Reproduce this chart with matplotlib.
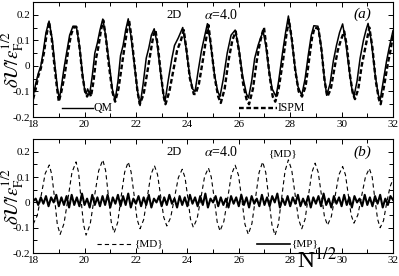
import numpy as np
import matplotlib
matplotlib.use('Agg')
import matplotlib.pyplot as plt
from matplotlib.ticker import MultipleLocator, FuncFormatter

plt.rcParams['font.family'] = 'serif'
plt.rcParams['font.serif'] = ['Liberation Serif', 'DejaVu Serif']
plt.rcParams['mathtext.fontset'] = 'stix'

# panel (a): QM (solid) and ISPM (dashed)
qm_x = [18.0, 18.1, 18.2, 18.3, 18.4, 18.5, 18.62, 18.75, 18.85, 18.95, 19.02, 19.1, 19.2, 19.3,
        19.42, 19.55, 19.68, 19.8, 19.92, 20.0, 20.06, 20.12, 20.2, 20.3, 20.4, 20.5, 20.6, 20.71,
        20.82, 20.95, 21.08, 21.19, 21.3, 21.4, 21.5, 21.6, 21.7, 21.8, 21.92, 22.05, 22.16, 22.28,
        22.4, 22.5, 22.6, 22.71, 22.82, 22.95, 23.05, 23.13, 23.25, 23.4, 23.5, 23.65, 23.82, 23.95,
        24.08, 24.2, 24.3, 24.42, 24.55, 24.68, 24.78, 24.9, 25.05, 25.18, 25.27, 25.4, 25.55, 25.7,
        25.86, 26.0, 26.15, 26.3, 26.38, 26.5, 26.62, 26.75, 26.85, 26.95, 27.05, 27.18, 27.3, 27.45,
        27.55, 27.7, 27.82, 27.93, 28.05, 28.18, 28.3, 28.45, 28.58, 28.7, 28.82, 28.92, 29.08, 29.2,
        29.32, 29.42, 29.55, 29.68, 29.8, 29.92, 30.04, 30.15, 30.3, 30.4, 30.48, 30.6, 30.72, 30.85,
        30.95, 31.03, 31.15, 31.3, 31.42, 31.5, 31.62, 31.75, 31.85, 32.0]
qm_y = [-0.12, -0.07, -0.03, 0.0, 0.06, 0.13, 0.175, 0.10, 0.0, -0.09, -0.13, -0.08, -0.01, 0.05,
        0.12, 0.155, 0.155, 0.08, -0.03, -0.09, -0.11, -0.09, -0.11, -0.04, 0.05, 0.09, 0.14, 0.183,
        0.12, 0.02, -0.09, -0.135, -0.06, 0.04, 0.08, 0.14, 0.184, 0.12, 0.02, -0.09, -0.155, -0.07,
        0.03, 0.07, 0.12, 0.145, 0.09, -0.02, -0.1, -0.14, -0.06, 0.03, 0.08, 0.11, 0.15, 0.07,
        -0.03, -0.09, -0.1, -0.02, 0.06, 0.12, 0.165, 0.09, -0.03, -0.1, -0.12, -0.05, 0.05, 0.12,
        0.14, 0.07, -0.04, -0.11, -0.125, -0.06, 0.03, 0.08, 0.11, 0.135, 0.08, -0.02, -0.09, -0.12,
        -0.06, 0.05, 0.13, 0.195, 0.11, 0.0, -0.08, -0.115, -0.05, 0.04, 0.12, 0.157, 0.155, 0.08,
        -0.04, -0.115, -0.07, 0.02, 0.08, 0.13, 0.164, 0.1, -0.02, -0.09, -0.12, -0.06, 0.03, 0.1,
        0.14, 0.166, 0.1, -0.03, -0.11, -0.134, -0.06, 0.02, 0.07, 0.138]

ispm_x = [18.0, 18.1, 18.2, 18.3, 18.42, 18.52, 18.62, 18.72, 18.82, 18.92, 19.0, 19.1, 19.22, 19.35,
          19.47, 19.58, 19.7, 19.82, 19.92, 20.02, 20.1, 20.18, 20.25, 20.35, 20.45, 20.55, 20.64,
          20.73, 20.83, 20.95, 21.08, 21.19, 21.32, 21.45, 21.55, 21.64, 21.73, 21.83, 21.95, 22.06,
          22.15, 22.3, 22.45, 22.58, 22.68, 22.76, 22.86, 22.98, 23.08, 23.15, 23.3, 23.45, 23.6,
          23.75, 23.86, 23.97, 24.1, 24.25, 24.32, 24.45, 24.6, 24.72, 24.82, 24.93, 25.07, 25.2,
          25.3, 25.45, 25.6, 25.75, 25.88, 26.02, 26.17, 26.3, 26.4, 26.55, 26.7, 26.82, 26.92, 26.98,
          27.08, 27.2, 27.32, 27.42, 27.55, 27.72, 27.85, 27.95, 28.07, 28.2, 28.33, 28.46, 28.6,
          28.73, 28.85, 28.95, 29.1, 29.22, 29.34, 29.45, 29.58, 29.72, 29.85, 29.97, 30.1, 30.2,
          30.33, 30.44, 30.52, 30.65, 30.78, 30.92, 31.02, 31.08, 31.2, 31.33, 31.45, 31.52, 31.65,
          31.8, 31.9, 32.0]
ispm_y = [-0.13, -0.09, -0.04, -0.01, 0.05, 0.12, 0.172, 0.11, 0.01, -0.08, -0.14, -0.10, -0.04, 0.05,
          0.12, 0.152, 0.15, 0.06, -0.04, -0.10, -0.12, -0.10, -0.12, -0.06, 0.03, 0.08, 0.14,
          0.178, 0.11, 0.0, -0.10, -0.14, -0.09, 0.0, 0.07, 0.13, 0.18, 0.11, 0.0, -0.10,
          -0.15, -0.11, -0.02, 0.06, 0.12, 0.14, 0.07, -0.04, -0.12, -0.15, -0.10, -0.02, 0.06,
          0.1, 0.14, 0.06, -0.05, -0.11, -0.11, -0.07, 0.02, 0.1, 0.16, 0.07, -0.05, -0.12,
          -0.145, -0.09, 0.02, 0.1, 0.135, 0.05, -0.07, -0.13, -0.15, -0.09, 0.02, 0.09, 0.13, 0.15,
          0.07, -0.04, -0.12, -0.14, -0.09, 0.02, 0.12, 0.18, 0.1, -0.02, -0.1, -0.12, -0.08,
          0.02, 0.11, 0.15, 0.145, 0.06, -0.06, -0.12, -0.09, -0.01, 0.06, 0.1, 0.135, 0.08,
          -0.04, -0.11, -0.13, -0.09, 0.0, 0.07, 0.12, 0.15, 0.07, -0.06, -0.13, -0.15, -0.08,
          0.01, 0.06, 0.12]

# panel (b): {MD} (dashed) and {MP} (solid)
md_x = [18.0, 18.16, 18.32, 18.47, 18.63, 18.73, 18.84, 18.94, 19.05, 19.20, 19.36, 19.51, 19.67,
        19.77, 19.86, 19.96, 20.06, 20.22, 20.38, 20.55, 20.71, 20.82, 20.93, 21.04, 21.15, 21.29,
        21.42, 21.56, 21.70, 21.81, 21.93, 22.04, 22.16, 22.30, 22.44, 22.58, 22.72, 22.84, 22.96,
        23.08, 23.20, 23.35, 23.50, 23.65, 23.80, 23.91, 24.02, 24.12, 24.23, 24.38, 24.53, 24.67,
        24.82, 24.93, 25.05, 25.16, 25.27, 25.42, 25.57, 25.71, 25.86, 25.99, 26.12, 26.24, 26.37,
        26.51, 26.65, 26.79, 26.93, 27.05, 27.17, 27.29, 27.41, 27.54, 27.67, 27.80, 27.93, 28.06,
        28.19, 28.32, 28.45, 28.58, 28.71, 28.84, 28.97, 29.09, 29.21, 29.33, 29.45, 29.60, 29.75,
        29.89, 30.04, 30.15, 30.26, 30.37, 30.48, 30.63, 30.78, 30.93, 31.08, 31.19, 31.29, 31.40,
        31.50, 31.63, 31.75, 31.88, 32.0]
md_y = [-0.086, -0.052, 0.031, 0.114, 0.148, 0.108, 0.011, -0.086, -0.126, -0.084, 0.017, 0.118, 0.160,
        0.118, 0.016, -0.087, -0.129, -0.086, 0.020, 0.125, 0.168, 0.126, 0.024, -0.078, -0.120, -0.079,
        0.020, 0.119, 0.160, 0.121, 0.028, -0.065, -0.104, -0.068, 0.020, 0.109, 0.145, 0.110, 0.026,
        -0.058, -0.093, -0.060, 0.019, 0.098, 0.131, 0.098, 0.017, -0.065, -0.098, -0.064, 0.019, 0.102,
        0.136, 0.100, 0.012, -0.077, -0.113, -0.075, 0.017, 0.109, 0.147, 0.107, 0.011, -0.086, -0.126,
        -0.084, 0.017, 0.118, 0.160, 0.118, 0.015, -0.088, -0.130, -0.086, 0.019, 0.124, 0.168, 0.128,
        0.032, -0.064, -0.104, -0.066, 0.026, 0.117, 0.155, 0.119, 0.033, -0.054, -0.090, -0.056, 0.026,
        0.108, 0.142, 0.109, 0.030, -0.049, -0.082, -0.050, 0.026, 0.102, 0.134, 0.100, 0.017, -0.066,
        -0.100, -0.072, -0.004, 0.060, 0.092]

mp_x = [18.0 + 0.1 * i for i in range(141)]
mp_y = [0.005, 0.015, -0.01, 0.02, -0.005, 0.025, -0.015, 0.02, 0.0, 0.03,
        -0.015, 0.02, -0.01, 0.025, -0.02, 0.03, -0.01, 0.02, -0.015, 0.035,
        -0.01, 0.015, -0.02, 0.03, -0.01, 0.02, -0.015, 0.025, -0.01, 0.03,
        -0.02, 0.02, -0.005, 0.03, -0.015, 0.025, -0.01, 0.035, -0.02, 0.015,
        -0.005, 0.025, -0.015, 0.02, -0.01, 0.03, -0.02, 0.015, 0.0, 0.025,
        -0.015, 0.02, -0.01, 0.03, -0.005, 0.015, -0.02, 0.025, -0.01, 0.02,
        -0.015, 0.03, -0.005, 0.02, -0.015, 0.025, -0.01, 0.035, -0.02, 0.015,
        0.0, 0.025, -0.015, 0.02, -0.01, 0.015, -0.02, 0.025, -0.005, 0.02,
        -0.015, 0.03, -0.01, 0.02, -0.02, 0.025, -0.005, 0.015, -0.015, 0.03,
        -0.01, 0.02, -0.015, 0.025, 0.0, 0.035, -0.02, 0.015, -0.01, 0.025,
        -0.015, 0.02, -0.005, 0.03, -0.015, 0.015, -0.01, 0.025, -0.02, 0.02,
        -0.005, 0.025, -0.015, 0.035, -0.01, 0.015, -0.02, 0.025, -0.005, 0.02,
        -0.015, 0.03, -0.01, 0.02, -0.02, 0.025, 0.0, 0.015, -0.015, 0.03,
        -0.01, 0.02, -0.015, 0.025, -0.005, 0.03, -0.02, 0.015, -0.01, 0.025,
        0.01]

ylab = r'$\delta\mathcal{U}/\varepsilon_{\rm F}^{1/2}$'
thick_dash = (0, (2.0, 1.1))
thin_dash = (0, (3.8, 2.8))


def fmt(v, pos):
    if abs(v) < 1e-9:
        return '0'
    return '%.1f' % v


def style(ax):
    ax.set_xlim(18, 32)
    ax.set_ylim(-0.2, 0.25)
    ax.xaxis.set_major_locator(MultipleLocator(2))
    ax.xaxis.set_minor_locator(MultipleLocator(1))
    ax.yaxis.set_major_locator(MultipleLocator(0.1))
    ax.yaxis.set_minor_locator(MultipleLocator(0.05))
    ax.yaxis.set_major_formatter(FuncFormatter(fmt))
    ax.tick_params(which='both', direction='in', top=True, right=True,
                   labelsize=8, width=0.7, pad=2)
    ax.tick_params(which='major', length=3.5)
    ax.tick_params(which='minor', length=3)
    for s in ax.spines.values():
        s.set_linewidth(0.8)


fig = plt.figure(figsize=(3.99, 2.76), dpi=100)
ax1 = fig.add_axes([0.083, 0.576, 0.902, 0.417])
ax2 = fig.add_axes([0.083, 0.083, 0.902, 0.413])

# (a)
ax1.plot(qm_x, qm_y, color='black', lw=1.1)
ax1.plot(ispm_x, ispm_y, color='black', lw=1.7, ls=thick_dash)
ax1.plot([19.13, 20.34], [-0.165, -0.165], color='black', lw=1.0)
ax1.text(20.36, -0.165, 'QM', fontsize=8.5, va='center', ha='left')
ax1.plot([26.0, 27.5], [-0.165, -0.165], color='black', lw=1.7, ls=thick_dash)
ax1.text(27.52, -0.165, 'ISPM', fontsize=8.5, va='center', ha='left')
ax1.text(23.5, 0.2, '2D', fontsize=9, ha='center', va='center')
ax1.text(25.3, 0.2, r'$\alpha$=4.0', fontsize=10, ha='center', va='center')
ax1.text(30.8, 0.2, '(a)', fontsize=11, style='italic', ha='center', va='center')
style(ax1)

# (b)
ax2.plot(md_x, md_y, color='black', lw=0.8, ls=thin_dash)
ax2.plot(mp_x, mp_y, color='black', lw=1.5)
ax2.plot([20.5, 21.9], [-0.164, -0.164], color='black', lw=0.8, ls=thin_dash)
ax2.text(21.92, -0.164, '{MD}', fontsize=8, va='center', ha='left')
ax2.plot([26.7, 28.0], [-0.164, -0.164], color='black', lw=1.2)
ax2.text(28.02, -0.164, '{MP}', fontsize=8, va='center', ha='left')
ax2.text(27.7, 0.19, '{MD}', fontsize=8, ha='center', va='center')
ax2.text(23.5, 0.2, '2D', fontsize=9, ha='center', va='center')
ax2.text(25.3, 0.2, r'$\alpha$=4.0', fontsize=10, ha='center', va='center')
ax2.text(30.8, 0.2, '(b)', fontsize=11, style='italic', ha='center', va='center')
style(ax2)

fig.text(0.0, 0.785, ylab, rotation=90, fontsize=13.5, ha='left', va='center')
fig.text(0.0, 0.29, ylab, rotation=90, fontsize=13.5, ha='left', va='center')
fig.text(0.744, 0.03, r'N$^{1/2}$', fontsize=17, ha='left', va='baseline')

fig.savefig('out.png', dpi=100)
